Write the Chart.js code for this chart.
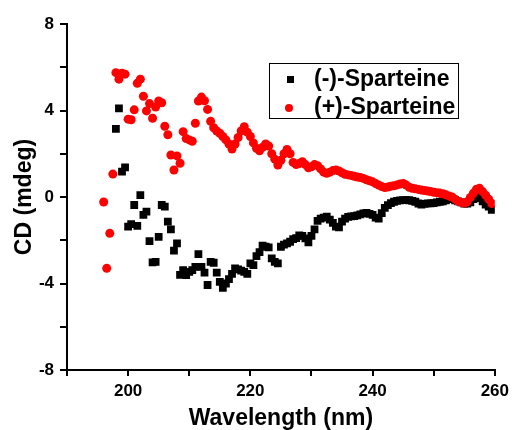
<!DOCTYPE html>
<html><head><meta charset="utf-8">
<script src="https://cdn.jsdelivr.net/npm/chart.js@4"></script>
<style>html,body{margin:0;padding:0;background:#fff}#wrap{width:514px;height:430px}</style>
</head><body><div id="wrap"><canvas id="c" width="514" height="430"></canvas></div>
<script>
const seriesLabels = ['(-)-Sparteine', '(+)-Sparteine'];
const seriesColors = ['#000000', '#ff0000'];
const xTitle = 'Wavelength (nm)';
const yTitle = 'CD (mdeg)';
const xTickLabels = [200, 220, 240, 260];
const yTickLabels = [-8, -4, 0, 4, 8];

const minusX = [198,198.5,199,199.5,200,200.5,201,201.5,202,202.5,203,203.5,204,204.5,205,205.5,206,206.5,207,207.5,208,208.5,209,209.5,210,210.5,211,211.5,212,212.5,213,213.5,214,214.5,215,215.5,216,216.5,217,217.5,218,218.5,219,219.5,220,220.5,221,221.5,222,222.5,223,223.5,224,224.5,225,225.5,226,226.5,227,227.5,228,228.5,229,229.5,230,230.5,231,231.5,232,232.5,233,233.5,234,234.5,235,235.5,236,236.5,237,237.5,238,238.5,239,239.5,240,240.5,241,241.5,242,242.5,243,243.5,244,244.5,245,245.5,246,246.5,247,247.5,248,248.5,249,249.5,250,250.5,251,251.5,252,252.5,253,253.5,254,254.5,255,255.5,256,256.5,257,257.5,258,258.5,259,259.5];
const minusY = [3.15,4.1,1.17,1.37,-1.37,-1.25,-0.37,-1.34,0.09,-0.83,-0.68,-2.04,-3.02,-3.0,-1.84,-0.37,-0.45,-1.14,-1.5,-2.48,-2.14,-3.6,-3.38,-3.61,-3.46,-3.38,-3.23,-2.64,-3.23,-3.5,-4.07,-3.0,-3.04,-3.5,-3.92,-4.2,-4.0,-3.8,-3.55,-3.3,-3.35,-3.4,-3.46,-3.56,-3.07,-3.15,-2.73,-2.55,-2.25,-2.3,-2.33,-2.84,-3.0,-3.07,-2.3,-2.2,-2.14,-2.07,-1.95,-1.9,-1.78,-1.8,-1.91,-2.1,-1.8,-1.5,-1.1,-1.0,-0.95,-0.91,-1.05,-1.2,-1.37,-1.4,-1.14,-1.0,-0.92,-0.9,-0.88,-0.85,-0.8,-0.76,-0.74,-0.78,-0.83,-0.95,-1.0,-0.75,-0.5,-0.38,-0.28,-0.22,-0.18,-0.16,-0.14,-0.14,-0.15,-0.18,-0.22,-0.3,-0.35,-0.32,-0.29,-0.29,-0.28,-0.25,-0.22,-0.2,-0.15,-0.1,-0.1,-0.15,-0.2,-0.25,-0.3,-0.3,-0.25,-0.1,0.1,-0.05,-0.2,-0.35,-0.45,-0.6];

const plusX = [196,196.5,197,197.5,198,198.5,199,199.5,200,200.5,201,201.5,202,202.5,203,203.5,204,204.5,205,205.5,206,206.5,207,207.5,208,208.5,209,209.5,210,210.5,211,211.5,212,212.5,213,213.5,214,214.5,215,215.5,216,216.5,217,217.5,218,218.5,219,219.5,220,220.5,221,221.5,222,222.5,223,223.5,224,224.5,225,225.5,226,226.5,227,227.5,228,228.5,229,229.5,230,230.5,231,231.5,232,232.5,233,233.5,234,234.5,235,235.5,236,236.5,237,237.5,238,238.5,239,239.5,240,240.5,241,241.5,242,242.5,243,243.5,244,244.5,245,245.5,246,246.5,247,247.5,248,248.5,249,249.5,250,250.5,251,251.5,252,252.5,253,253.5,254,254.5,255,255.5,256,256.5,257,257.5,258,258.5,259,259.5];
const plusY = [-0.23,-3.3,-1.68,1.06,5.75,5.45,5.72,5.68,3.6,3.57,4.03,5.26,5.45,4.66,3.98,4.32,3.64,4.16,4.44,4.36,3.27,2.88,1.94,1.25,1.9,1.56,3.02,2.7,2.64,2.58,3.41,4.44,4.62,4.45,4.05,3.5,3.2,3.05,2.95,2.8,2.64,2.45,2.22,2.45,2.75,3.05,3.25,3.0,2.8,2.5,2.25,2.14,2.3,2.45,2.36,2.0,1.75,1.48,1.7,2.0,2.2,2.0,1.6,1.5,1.55,1.63,1.5,1.35,1.4,1.5,1.45,1.3,1.15,1.1,1.15,1.22,1.25,1.2,1.12,1.05,1.02,1.0,0.96,0.92,0.9,0.86,0.8,0.75,0.7,0.62,0.55,0.48,0.44,0.46,0.5,0.52,0.56,0.6,0.63,0.55,0.45,0.4,0.38,0.35,0.32,0.3,0.28,0.25,0.22,0.2,0.18,0.15,0.1,0.05,0.0,-0.1,-0.2,-0.25,-0.28,-0.22,-0.02,0.18,0.36,0.4,0.25,0.08,-0.1,-0.3];

const FONT = 'Arial, "Liberation Sans", sans-serif';
const toPoints = (xs, ys) => xs.map((x, i) => ({x: x, y: ys[i]}));

const insetLegend = {
  id: 'insetLegend',
  afterDatasetsDraw(chart) {
    const ctx = chart.ctx;
    ctx.save();
    ctx.fillStyle = '#fff';
    ctx.fillRect(269.5, 63.5, 189, 55);
    ctx.lineWidth = 1;
    ctx.strokeStyle = '#000';
    ctx.strokeRect(269.5, 63.5, 189, 55);
    ctx.font = 'bold 23px ' + FONT;
    ctx.textBaseline = 'middle';
    ctx.textAlign = 'left';
    const rows = [79, 107];
    chart.data.datasets.forEach((ds) => {
      const y = rows[ds.legendRow];
      ctx.fillStyle = ds.backgroundColor;
      if (ds.pointStyle === 'rect') {
        ctx.fillRect(287, y - 3, 7, 7);
      } else {
        ctx.beginPath(); ctx.arc(289, y + 1, 4, 0, Math.PI * 2); ctx.fill();
      }
      ctx.fillStyle = '#000';
      ctx.fillText(ds.label, 314, y + 1);
    });
    ctx.restore();
  }
};

new Chart(document.getElementById('c'), {
  type: 'scatter',
  data: {
    datasets: [
      {label: seriesLabels[1], data: toPoints(plusX, plusY), backgroundColor: seriesColors[1], borderColor: seriesColors[1], pointStyle: 'circle', pointRadius: 4.5, pointBorderWidth: 0, order: 0, legendRow: 1},
      {label: seriesLabels[0], data: toPoints(minusX, minusY), backgroundColor: seriesColors[0], borderColor: seriesColors[0], pointStyle: 'rect', pointRadius: 5.5, pointBorderWidth: 0, order: 1, legendRow: 0}
    ]
  },
  options: {
    responsive: false,
    animation: false,
    devicePixelRatio: 1,
    layout: {padding: {top: 24, right: 17, left: 0, bottom: 0}},
    plugins: {legend: {display: false}, tooltip: {enabled: false}},
    scales: {
      x: {
        type: 'linear', min: 190, max: 260,
        border: {display: true, color: '#000', width: 2},
        grid: {display: true, drawOnChartArea: false, drawTicks: true, tickLength: 6, color: '#000', lineWidth: 2},
        ticks: {stepSize: 10, autoSkip: false, maxRotation: 0, color: '#000', padding: 5,
          font: {family: FONT, size: 17, weight: 'bold'},
          callback: v => xTickLabels.includes(v) ? String(v) : ''},
        title: {display: true, text: xTitle, color: '#000', font: {family: FONT, size: 23, weight: 'bold'}, padding: {top: 0, bottom: -2}},
        afterFit: s => { s.height = 60; }
      },
      y: {
        type: 'linear', min: -8, max: 8,
        border: {display: true, color: '#000', width: 2},
        grid: {display: true, drawOnChartArea: false, drawTicks: true, tickLength: 7, color: '#000', lineWidth: 2},
        ticks: {stepSize: 2, autoSkip: false, color: '#000', padding: 6,
          font: {family: FONT, size: 17, weight: 'bold'},
          callback: v => yTickLabels.includes(v) ? String(v) : ''},
        title: {display: true, text: yTitle, color: '#000', font: {family: FONT, size: 23, weight: 'bold'}, padding: {top: 11, bottom: 0}},
        afterFit: s => { s.width = 67; }
      }
    }
  },
  plugins: [insetLegend]
});
</script></body></html>
